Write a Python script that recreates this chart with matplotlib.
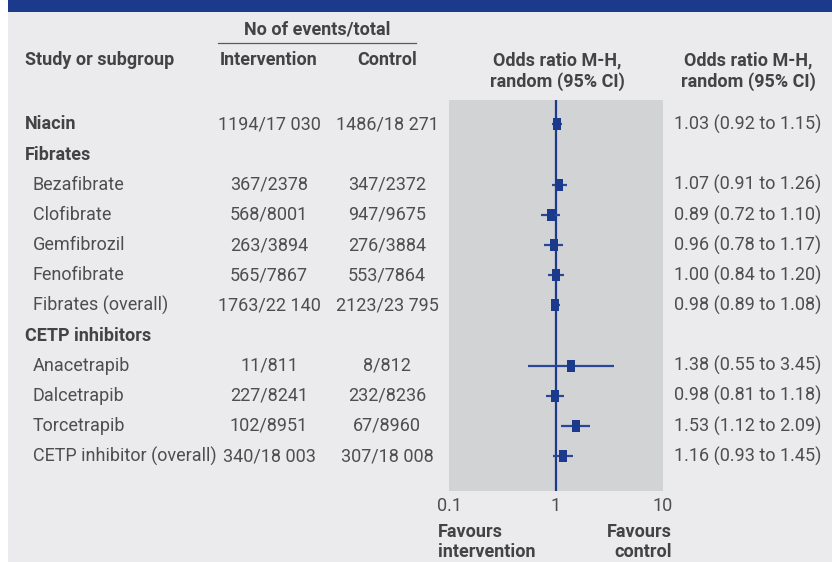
import numpy as np
import matplotlib
matplotlib.use("Agg")
import matplotlib.pyplot as plt
from matplotlib import transforms
from matplotlib.patches import Rectangle

# ---- data ----
studies = ["Niacin", "Fibrates", "Bezafibrate", "Clofibrate", "Gemfibrozil",
           "Fenofibrate", "Fibrates (overall)", "CETP inhibitors", "Anacetrapib",
           "Dalcetrapib", "Torcetrapib", "CETP inhibitor (overall)"]
row_kind = ["bold", "bold", "sub", "sub", "sub", "sub", "sub", "bold",
            "sub", "sub", "sub", "sub"]
intervention = ["1194/17 030", "", "367/2378", "568/8001", "263/3894", "565/7867",
                "1763/22 140", "", "11/811", "227/8241", "102/8951", "340/18 003"]
control = ["1486/18 271", "", "347/2372", "947/9675", "276/3884", "553/7864",
           "2123/23 795", "", "8/812", "232/8236", "67/8960", "307/18 008"]
odds_ratio = [1.03, np.nan, 1.07, 0.89, 0.96, 1.00, 0.98, np.nan, 1.38, 0.98, 1.53, 1.16]
ci_low = [0.92, np.nan, 0.91, 0.72, 0.78, 0.84, 0.89, np.nan, 0.55, 0.81, 1.12, 0.93]
ci_high = [1.15, np.nan, 1.26, 1.10, 1.17, 1.20, 1.08, np.nan, 3.45, 1.18, 2.09, 1.45]
x_ticks = [0.1, 1, 10]
x_tick_labels = ["0.1", "1", "10"]

# ---- style ----
W, H = 832, 562
FONT = ["Roboto", "DejaVu Sans"]
BG = "#ebebed"
PANEL = "#d2d3d5"
BLUE = "#1c3a8b"
LINE_BLUE = "#2a4696"
TXT = "#4e4e4e"
HEAD = "#434343"
FS = 13.0

plt.rcParams["font.family"] = FONT

fig = plt.figure(figsize=(W / 100, H / 100), dpi=100)
fig.patch.set_facecolor("white")


def fx(px):
    return px / W


def fy(py):
    return 1 - py / H


# page background and top banner
fig.add_artist(Rectangle((fx(8), 0), 1 - fx(8), 1, transform=fig.transFigure,
                         facecolor=BG, edgecolor="none", zorder=0))
fig.add_artist(Rectangle((fx(8), fy(12)), 1 - fx(8), 12 / H, transform=fig.transFigure,
                         facecolor=BLUE, edgecolor="none", zorder=1))

# forest plot axes
ax_left, ax_right, ax_top, ax_bottom = 449, 663, 100, 491
ax = fig.add_axes([fx(ax_left), fy(ax_bottom), (ax_right - ax_left) / W,
                   (ax_bottom - ax_top) / H])
ax.set_facecolor(PANEL)
for s in ax.spines.values():
    s.set_visible(False)
ax.set_xscale("log")
ax.set_xlim(0.1, 10)
row0, step = 124.5, 30.15
ax.set_ylim((ax_bottom - row0) / step, (ax_top - row0) / step)
ax.set_xticks(x_ticks)
ax.set_xticklabels(x_tick_labels)
ax.minorticks_off()
ax.set_yticks([])
ax.tick_params(axis="x", length=0, pad=4, labelsize=FS, labelcolor=TXT)

ax.axvline(1, color=BLUE, lw=1.6, zorder=2)

rows = np.arange(len(studies))
or_arr = np.array(odds_ratio)
lo_arr = np.array(ci_low)
hi_arr = np.array(ci_high)
has = ~np.isnan(or_arr)
ax.hlines(rows[has], lo_arr[has], hi_arr[has], color=LINE_BLUE, lw=1.6, zorder=3)
box = [(-0.33, -0.5), (0.33, -0.5), (0.33, 0.5), (-0.33, 0.5), (-0.33, -0.5)]
ax.plot(or_arr[has], rows[has], linestyle="none", marker=box, markersize=8.3,
        color=BLUE, markeredgewidth=0, zorder=4)

# table text aligned with the plot rows
tr = transforms.blended_transform_factory(fig.transFigure, ax.transData)
for i, name in enumerate(studies):
    bold = row_kind[i] == "bold"
    x = 25 if bold else 33
    fig.text(fx(x), i, name, transform=tr, ha="left", va="center", fontsize=FS,
             fontweight="bold" if bold else "normal", color=HEAD if bold else TXT)
    if intervention[i]:
        fig.text(fx(269), i, intervention[i], transform=tr, ha="center",
                 va="center", fontsize=FS, color=TXT)
        fig.text(fx(387), i, control[i], transform=tr, ha="center",
                 va="center", fontsize=FS, color=TXT)
    if has[i]:
        label = f"{odds_ratio[i]:.2f} ({ci_low[i]:.2f} to {ci_high[i]:.2f})"
        fig.text(fx(674), i, label, transform=tr, ha="left", va="center",
                 fontsize=FS, color=TXT)

# column headings
hk = dict(fontsize=FS, fontweight="bold", color=HEAD, va="center")
fig.text(fx(317), fy(30), "No of events/total", ha="center", **hk)
fig.add_artist(plt.Line2D([fx(218), fx(416)], [fy(43), fy(43)],
                          transform=fig.transFigure, color="#5a5a5a", lw=0.9))
fig.text(fx(25), fy(60), "Study or subgroup", ha="left", **hk)
fig.text(fx(269), fy(60), "Intervention", ha="center", **hk)
fig.text(fx(387), fy(60), "Control", ha="center", **hk)
fig.text(fx(557), fy(60), "Odds ratio M-H,", ha="center", **hk)
fig.text(fx(557), fy(82), "random (95% CI)", ha="center", **hk)
fig.text(fx(748), fy(60), "Odds ratio M-H,", ha="center", **hk)
fig.text(fx(748), fy(82), "random (95% CI)", ha="center", **hk)

# direction labels under the axis
fig.text(fx(438), fy(532), "Favours", ha="left", **hk)
fig.text(fx(438), fy(552), "intervention", ha="left", **hk)
fig.text(fx(672), fy(532), "Favours", ha="right", **hk)
fig.text(fx(672), fy(552), "control", ha="right", **hk)

fig.savefig("out.png", dpi=100, facecolor=fig.get_facecolor())
